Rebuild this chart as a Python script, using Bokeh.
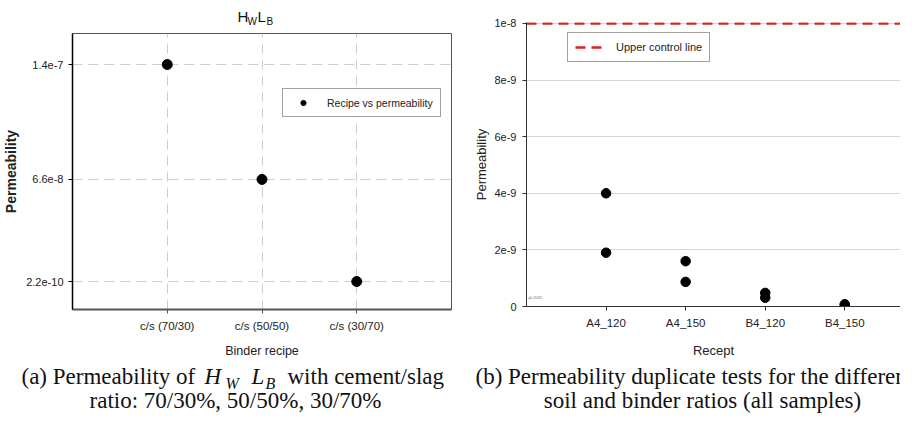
from bokeh.plotting import figure
from bokeh.models import (FactorRange, Range1d, FixedTicker, CustomJSTickFormatter,
                          Label, Legend, LegendItem, Plot)
from bokeh.layouts import row, column
from bokeh.embed import file_html
from bokeh.resources import INLINE

# ---------------- data ----------------
recipes = ["c/s (70/30)", "c/s (50/50)", "c/s (30/70)"]
recipe_perm = [1.4e-7, 6.6e-8, 2.2e-10]

recepts = ["A4_120", "A4_150", "B4_120", "B4_150"]
test_recept = ["A4_120", "A4_120", "A4_150", "A4_150", "B4_120", "B4_120", "B4_150", "B4_150"]
test_perm = [4.0e-9, 1.9e-9, 1.6e-9, 0.87e-9, 0.48e-9, 0.31e-9, 0.08e-9, 0.05e-9]
upper_control = 1e-8
right_y_ticks = [0, 2e-9, 4e-9, 6e-9, 8e-9, 1e-8]

title_a = ["H", "W", "L", "B"]
caption_a = ["(a) Permeability of", "H", "W", "L", "B", "with cement/slag",
             "ratio: 70/30%, 50/50%, 30/70%"]
caption_b = ["(b) Permeability duplicate tests for the different",
             "soil and binder ratios (all samples)"]

SANS = "Liberation Sans"
SERIF = "Liberation Serif"
TXT = "#222222"
CAP = 23

NOALIGN = {"frame_align": False} if "frame_align" in Plot.properties() else {}
COMMON = dict(output_backend="svg", toolbar_location=None, title=None,
              background_fill_color="white", border_fill_color="white", **NOALIGN)

exp_fmt = CustomJSTickFormatter(code="return tick == 0 ? '0' : tick.toExponential();")

WA, WB = 452, 448


def text_fig(w, h):
    f = figure(width=w, height=h, x_range=Range1d(0, w), y_range=Range1d(h, 0),
               x_axis_type=None, y_axis_type=None, min_border=0,
               outline_line_color=None, **COMMON)
    f.grid.visible = False
    return f


def lab(p, fx, base, text, size, font=SANS, style="normal", align="left"):
    # base = wanted baseline (px from the top of the text figure)
    p.add_layout(Label(x=fx, y=base - 0.33 * size, text=text, text_font=font,
                       text_font_size=f"{size}px", text_font_style=style,
                       text_color="#111111", text_align=align, text_baseline="alphabetic"))


def style_axis(ax, color):
    ax.axis_line_color = color
    ax.major_tick_out = 4
    ax.major_tick_in = 0
    ax.minor_tick_out = 0
    ax.minor_tick_in = 0
    ax.major_tick_line_color = color
    ax.major_label_text_font = SANS
    ax.major_label_text_color = TXT
    ax.axis_label_text_font = SANS
    ax.axis_label_text_color = TXT
    ax.axis_label_text_font_style = "normal"


# ---------------- left panel ----------------
ta = text_fig(WA, 31)
lab(ta, 237, 21, title_a[0], 15)
lab(ta, 247, 24.5, title_a[1], 10)
lab(ta, 257, 21, title_a[2], 15)
lab(ta, 266, 24.5, title_a[3], 10)

pa = figure(width=WA, height=329, x_range=FactorRange(factors=recipes, range_padding=1 / 3),
            y_range=Range1d(-1.78e-8, 1.6e-7), min_border_left=71, min_border_right=1,
            min_border_top=2, min_border_bottom=51, outline_line_color="#555555",
            outline_line_width=1, **COMMON)

ra = pa.scatter(x=recipes, y=recipe_perm, size=10, color="black")

style_axis(pa.xaxis[0], "#555555")
style_axis(pa.yaxis[0], "black")
pa.xaxis.axis_line_width = 2
pa.xaxis.axis_label = "Binder recipe"
pa.xaxis.axis_label_standoff = 9
pa.xaxis.axis_label_text_font_size = "12.5px"
pa.xaxis.major_label_standoff = 6
pa.xaxis.major_label_text_font_size = "11.5px"

pa.yaxis.ticker = FixedTicker(ticks=recipe_perm)
pa.yaxis.formatter = exp_fmt
pa.yaxis.axis_line_width = 1.5
pa.yaxis.axis_label = "Permeability"
pa.yaxis.axis_label_text_font_style = "bold"
pa.yaxis.axis_label_text_font_size = "14px"
pa.yaxis.axis_label_standoff = 4
pa.yaxis.major_label_standoff = 5
pa.yaxis.major_label_text_font_size = "11px"

for g in (pa.xgrid[0], pa.ygrid[0]):
    g.grid_line_color = "#cfcfcf"
    g.grid_line_dash = "10 6"
    g.grid_line_width = 1

leg_a = Legend(items=[LegendItem(label="Recipe vs permeability", renderers=[ra])],
               location=(210, 192), padding=7, margin=0, glyph_width=26, glyph_height=13,
               label_height=13, label_standoff=11, label_text_font=SANS,
               label_text_font_size="10.5px", label_text_color=TXT,
               border_line_color="#444444", border_line_width=1,
               background_fill_color="white", background_fill_alpha=1)
pa.add_layout(leg_a)

ca = text_fig(WA, 53)
lab(ca, 21, 24, caption_a[0], CAP, SERIF)
lab(ca, 204, 24, caption_a[1], CAP, SERIF, "italic")
lab(ca, 225, 28, caption_a[2], 16, SERIF, "italic")
lab(ca, 251, 24, caption_a[3], CAP, SERIF, "italic")
lab(ca, 265, 28, caption_a[4], 16, SERIF, "italic")
lab(ca, 287, 24, caption_a[5], CAP, SERIF)
lab(ca, 235, 47.5, caption_a[6], CAP, SERIF, align="center")

# ---------------- right panel ----------------
x_lo, x_hi = 0, 4.7
pb = figure(width=WB, height=360, x_range=Range1d(x_lo, x_hi),
            y_range=Range1d(0, 1.0035e-8), min_border_left=74, min_border_right=0,
            min_border_top=22, min_border_bottom=52, outline_line_color=None, **COMMON)

xpos = [recepts.index(r) + 1 for r in test_recept]
pb.scatter(x=xpos, y=test_perm, size=9.5, color="black")

rc = pb.line(x=[x_lo, x_hi], y=[upper_control, upper_control], line_color="#dd2222",
             line_width=2.5, line_dash="10 6")

style_axis(pb.xaxis[0], "#333333")
style_axis(pb.yaxis[0], "#333333")
pb.xaxis.ticker = FixedTicker(ticks=list(range(1, len(recepts) + 1)))
pb.xaxis.major_label_overrides = {i + 1: r for i, r in enumerate(recepts)}
pb.xaxis.axis_label = "Recept"
pb.xaxis.axis_label_standoff = 11
pb.xaxis.axis_label_text_font_size = "13px"
pb.xaxis.major_label_standoff = 6
pb.xaxis.major_label_text_font_size = "11.5px"

pb.yaxis.ticker = FixedTicker(ticks=right_y_ticks)
pb.yaxis.formatter = exp_fmt
pb.yaxis.axis_label = "Permeability"
pb.yaxis.axis_label_text_font_size = "13px"
pb.yaxis.axis_label_standoff = 2
pb.yaxis.major_label_standoff = 6
pb.yaxis.major_label_text_font_size = "11px"

pb.xgrid.visible = False
pb.ygrid.grid_line_color = "#d6d6d6"
pb.ygrid.grid_line_width = 1

leg_b = Legend(items=[LegendItem(label="Upper control line", renderers=[rc])],
               location=(41, 244), padding=7, margin=0, glyph_width=29, glyph_height=14,
               label_height=14, label_standoff=12, label_text_font=SANS,
               label_text_font_size="11px", label_text_color=TXT,
               border_line_color="#444444", border_line_width=1,
               background_fill_color="white", background_fill_alpha=1)
pb.add_layout(leg_b)

pb.add_layout(Label(x=2, y=7, x_units="screen", y_units="screen", text="pl-2020",
                    text_font=SANS, text_font_size="4px", text_color="#666666"))

cb = text_fig(WB, 53)
lab(cb, 23, 24, caption_b[0], CAP, SERIF)
lab(cb, 250, 47.5, caption_b[1], CAP, SERIF, align="center")

layout = row(column(ta, pa, ca), column(pb, cb))
open("out.html", "w").write(file_html(layout, INLINE))
